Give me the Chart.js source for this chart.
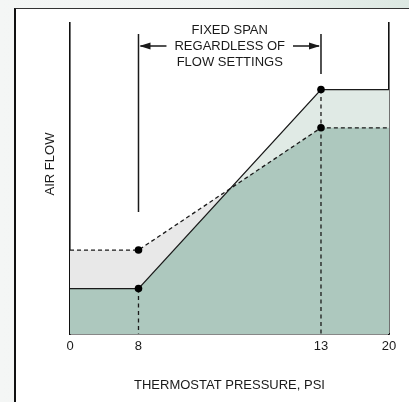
<!DOCTYPE html>
<html><head><meta charset="utf-8">
<script src="https://cdn.jsdelivr.net/npm/chart.js@4.4.0/dist/chart.umd.min.js"></script>
<style>
html,body{margin:0;padding:0;width:409px;height:402px;overflow:hidden;}
body{background:linear-gradient(to right,#f4f6f5 0%,#f0f3f2 55%,#dce8e2 100%);position:relative;}
#panel{position:absolute;left:14px;top:8px;width:420px;height:420px;background:#fff;border-left:2px solid #111;border-top:1px solid #333;box-sizing:border-box;}
#wrap{position:absolute;left:0;top:0;width:409px;height:402px;}
</style></head><body>
<div id="panel"></div>
<div id="wrap"><canvas id="c" width="409" height="402"></canvas></div>
<script>
// ---- data ----
const xTicks = [0, 8, 13, 20];
const pressure = [0, 8, 13, 20];
const flowSolid = [14.6, 14.6, 78.6, 78.6];
const flowDashed = [27.0, 27.0, 66.3, 66.3];
const spanStart = 8, spanEnd = 13;
const guideTop = 96.5;
const guideSpanStartBottom = 39.2;
const guideSpanEndBottom = 83.6;
const arrowLevel = 92.6;
const spanLabel = ['FIXED SPAN', 'REGARDLESS OF', 'FLOW SETTINGS'];
const xTitle = 'THERMOSTAT PRESSURE, PSI';
const yTitle = 'AIR FLOW';
// schematic (non-uniform) pressure axis: fraction of axis length at each break
const xBreaks = [0, 8, 13, 20];
const xBreakFractions = [0, 0.2147, 0.7868, 1];

// ---- piecewise linear scale ----
const LinearScale = Chart.registry.getScale('linear');
class PiecewiseScale extends LinearScale {
  buildTicks() { return xTicks.map(v => ({ value: v })); }
  _dec(v) {
    const b = xBreaks, f = xBreakFractions;
    for (let i = 1; i < b.length; i++) {
      if (v <= b[i] || i === b.length - 1)
        return f[i-1] + (v - b[i-1]) / (b[i] - b[i-1]) * (f[i] - f[i-1]);
    }
  }
  getPixelForValue(v) { return v == null ? NaN : this.getPixelForDecimal(this._dec(v)); }
  getValueForPixel(p) {
    const d = this.getDecimalForPixel(p), b = xBreaks, f = xBreakFractions;
    for (let i = 1; i < f.length; i++) {
      if (d <= f[i] || i === f.length - 1)
        return b[i-1] + (d - f[i-1]) / (f[i] - f[i-1]) * (b[i] - b[i-1]);
    }
  }
}
PiecewiseScale.id = 'piecewise';
PiecewiseScale.defaults = LinearScale.defaults;
Chart.register(PiecewiseScale);

const FONT = '"Liberation Sans", Arial, Helvetica, sans-serif';
const FS = 13;
const INK = '#1a1a1a';
const TEAL = '#adc8be', GRAY = '#e8e8e8', PALE = '#e0eae5';

const pts = arr => pressure.map((p, i) => ({ x: p, y: arr[i] }));
const isSpan = c => { const p = pressure[c.dataIndex]; return p === spanStart || p === spanEnd; };

const annot = {
  id: 'annot',
  afterDatasetsDraw(chart) {
    const { ctx, scales: { x, y }, chartArea } = chart;
    ctx.save();
    ctx.font = FS + 'px ' + FONT;
    ctx.fillStyle = INK; ctx.textAlign = 'center'; ctx.textBaseline = 'middle';
    const x0 = x.getPixelForValue(spanStart), x1 = x.getPixelForValue(spanEnd);
    const cx = (x0 + x1) / 2, ay = y.getPixelForValue(arrowLevel);
    const lh = 15.8;
    spanLabel.forEach((t, i) => ctx.fillText(t, cx, ay + (i - 1) * lh + 0.5));
    const w = ctx.measureText(spanLabel[1]).width, gap = 8, hl = 12, hw = 3.5;
    ctx.strokeStyle = INK; ctx.lineWidth = 1.5;
    ctx.beginPath(); ctx.moveTo(x0 + 2, ay); ctx.lineTo(cx - w / 2 - gap, ay);
    ctx.moveTo(cx + w / 2 + gap, ay); ctx.lineTo(x1 - 2, ay); ctx.stroke();
    ctx.beginPath(); ctx.moveTo(x0 + 1, ay); ctx.lineTo(x0 + hl, ay - hw); ctx.lineTo(x0 + hl, ay + hw); ctx.closePath(); ctx.fill();
    ctx.beginPath(); ctx.moveTo(x1 - 1, ay); ctx.lineTo(x1 - hl, ay - hw); ctx.lineTo(x1 - hl, ay + hw); ctx.closePath(); ctx.fill();
    ctx.translate(chartArea.left - 20, 164); ctx.rotate(-Math.PI / 2);
    ctx.fillText(yTitle, 0, 0);
    ctx.restore();
  }
};

new Chart(document.getElementById('c'), {
  type: 'line',
  data: {
    datasets: [
      { data: pts(flowDashed), yAxisID: 'y', borderColor: INK, borderWidth: 1.3, borderDash: [4, 3],
        fill: { target: 1, above: GRAY, below: PALE },
        pointRadius: c => isSpan(c) ? 3.8 : 0, pointBackgroundColor: '#000', pointBorderWidth: 0 },
      { data: pts(flowSolid), yAxisID: 'y', borderColor: INK, borderWidth: 1.3,
        fill: { target: 'origin', above: TEAL }, backgroundColor: TEAL,
        pointRadius: c => isSpan(c) ? 3.8 : 0, pointBackgroundColor: '#000', pointBorderWidth: 0 },
      { data: [{ x: spanStart, y: guideTop }, { x: spanStart, y: guideSpanStartBottom }], yAxisID: 'y',
        borderColor: INK, borderWidth: 1.5, pointRadius: 0, fill: false },
      { data: [{ x: spanEnd, y: guideTop }, { x: spanEnd, y: guideSpanEndBottom }], yAxisID: 'y',
        borderColor: INK, borderWidth: 1.5, pointRadius: 0, fill: false },
      { data: [{ x: spanStart, y: flowSolid[1] }, { x: spanStart, y: 0 }], yAxisID: 'y',
        borderColor: INK, borderWidth: 1.3, borderDash: [4, 3.5], pointRadius: 0, fill: false },
      { data: [{ x: spanEnd, y: flowSolid[2] }, { x: spanEnd, y: 0 }], yAxisID: 'y',
        borderColor: INK, borderWidth: 1.3, borderDash: [4, 3.5], pointRadius: 0, fill: false }
    ]
  },
  options: {
    responsive: false, animation: false,
    layout: { padding: { left: 0, right: 20, top: 23, bottom: 0 } },
    plugins: { legend: { display: false }, tooltip: { enabled: false }, filler: { drawTime: 'beforeDatasetsDraw' } },
    elements: { line: { tension: 0 } },
    scales: {
      x: { type: 'piecewise', min: 0, max: 20, position: 'bottom',
        grid: { display: false, drawTicks: false },
        border: { display: true, color: '#111', width: 1.6 },
        ticks: { autoSkip: false, maxRotation: 0, padding: 5, color: INK, font: { family: FONT, size: FS } },
        title: { display: true, text: xTitle, color: INK, font: { family: FONT, size: FS }, padding: { top: 0, bottom: 9 } },
        afterFit: s => { s.height = 68; } },
      y: { type: 'linear', position: 'left', min: 0, max: 100,
        ticks: { display: false }, grid: { display: false, drawTicks: false },
        border: { display: true, color: '#111', width: 1.6 },
        afterFit: s => { s.width = 70; } },
      y2: { type: 'linear', position: 'right', min: 0, max: 100,
        ticks: { display: false }, grid: { display: false, drawTicks: false },
        border: { display: true, color: '#111', width: 1.6 },
        afterFit: s => { s.width = 0; } }
    }
  },
  plugins: [annot]
});
</script>
</body></html>
